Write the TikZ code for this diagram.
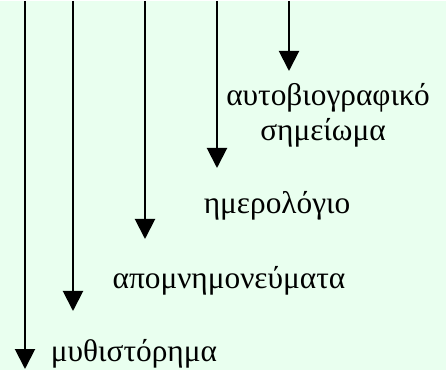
\documentclass[tikz,border=0pt]{standalone}
\usepackage{fontspec}
\setmainfont{Liberation Serif}
\usetikzlibrary{arrows.meta, positioning}
\definecolor{mintbg}{RGB}{233,255,239}
\tikzset{
  down/.style={line width=1.5pt, -{Triangle[width=15pt, length=15pt]}},
  label/.style={anchor=base, inner sep=0.75pt, font=\fontsize{23.5}{28}\selectfont}
}
\begin{document}
\begin{tikzpicture}[x=0.75pt,y=0.75pt,yscale=-1,xscale=1]
%background, sets the size of the diagram
\fill[mintbg] (0,0) rectangle (446,369);

%Arrow ends
\coordinate (top1) at (25,0);
\coordinate (tip1) at (25,368);
\coordinate (top2) at (73,0);
\coordinate (tip2) at (73,310);
\coordinate (top3) at (145,0);
\coordinate (tip3) at (145,238);
\coordinate (top4) at (217,0);
\coordinate (tip4) at (217,167);
\coordinate (top5) at (289,0);
\coordinate (tip5) at (289,70);

%Straight Lines
\draw [down] (top1) -- (tip1);
\draw [down] (top2) -- (tip2);
\draw [down] (top3) -- (tip3);
\draw [down] (top4) -- (tip4);
\draw [down] (top5) -- (tip5);

% Text Node
\node (autobio) [label] at (328,105) {αυτοβιογραφικό};
% Text Node
\node (simeioma) [label] at (323,140) {σημείωμα};
% Text Node
\node (imerologio) [label] at (277,213) {ημερολόγιο};
% Text Node
\node (apomnim) [label] at (229,288) {απομνημονεύματα};
% Text Node
\node (mythist) [label] at (134,360) {μυθιστόρημα};

\end{tikzpicture}
\end{document}
